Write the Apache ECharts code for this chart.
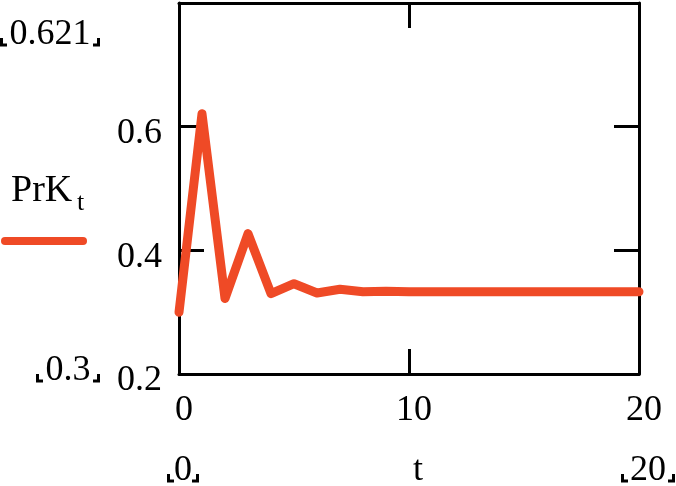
<!DOCTYPE html>
<html>
<head>
<meta charset="utf-8">
<script src="https://cdn.jsdelivr.net/npm/echarts@6/dist/echarts.min.js"></script>
<style>
html,body{margin:0;padding:0;background:#fff;}
#c{width:676px;height:486px;}
</style>
</head>
<body>
<div id="c"></div>
<script>
// Data
var tValues = [0,1,2,3,4,5,6,7,8,9,10,11,12,13,14,15,16,17,18,19,20];
var prkValues = [0.300,0.621,0.322,0.427,0.330,0.346,0.331,0.337,0.333,0.334,0.333,0.333,0.333,0.333,0.333,0.333,0.333,0.333,0.333,0.333,0.333];
var xTicks = [0,10,20];
var yTicks = [0.2,0.4,0.6];
var xLimitLabels = ['0','20'];
var yLimitLabels = ['0.621','0.3'];
var xName = 't';
var seriesName = 'PrK';
var seriesSub = 't';

var lineColor = '#EF4A26';
var font = 'Liberation Serif';
var chart = echarts.init(document.getElementById('c'), null, {renderer:'canvas'});

var pts = tValues.map(function(t,i){return [t, prkValues[i]];});

function yFmt(v){
  for (var i=0;i<yTicks.length;i++){ if (Math.abs(v-yTicks[i])<1e-9) return String(yTicks[i]); }
  return '';
}
function xFmt(v){
  for (var i=0;i<xTicks.length;i++){ if (Math.abs(v-xTicks[i])<1e-9) return String(xTicks[i]); }
  return '';
}

var axLine = {show:true, onZero:false, lineStyle:{color:'#000', width:3}};
var axTick = {show:true, inside:true, length:25, lineStyle:{color:'#000', width:3}};

var graphics = [];
function limitLabel(cx, cy, str, w){
  graphics.push({type:'text', x:cx, y:cy, style:{text:str, font:'36px "'+font+'"', fill:'#000', textAlign:'center', textVerticalAlign:'middle'}});
  var half = w/2;
  var by = cy + 10;
  graphics.push({type:'polyline', shape:{points:[[cx-half+1.5, by-7],[cx-half+1.5, by],[cx-half+7, by]]}, style:{stroke:'#000', lineWidth:3, fill:null}});
  graphics.push({type:'polyline', shape:{points:[[cx+half-7, by],[cx+half-1.5, by],[cx+half-1.5, by-7]]}, style:{stroke:'#000', lineWidth:3, fill:null}});
}
limitLabel(50, 35, yLimitLabels[0], 100);
limitLabel(68, 371, yLimitLabels[1], 64);
limitLabel(183, 471, xLimitLabels[0], 32);
limitLabel(648, 471, xLimitLabels[1], 54);
graphics.push({type:'text', x:418, y:471, style:{text:xName, font:'36px "'+font+'"', fill:'#000', textAlign:'center', textVerticalAlign:'middle'}});
// legend
graphics.push({type:'text', x:11, y:191, style:{text:seriesName, font:'38px "'+font+'"', fill:'#000', textAlign:'left', textVerticalAlign:'middle'}});
graphics.push({type:'text', x:77, y:203, style:{text:seriesSub, font:'26px "'+font+'"', fill:'#000', textAlign:'left', textVerticalAlign:'middle'}});
graphics.push({type:'line', shape:{x1:5, y1:241, x2:83, y2:241}, style:{stroke:lineColor, lineWidth:8, lineCap:'round'}});

var option = {
  animation:false,
  backgroundColor:'#fff',
  grid:{left:179, right:37, top:3, bottom:112, containLabel:false},
  xAxis:[
    {type:'value', position:'bottom', min:0, max:20, interval:10,
     axisLine:axLine, axisTick:axTick, splitLine:{show:false},
     axisLabel:{show:true, formatter:xFmt, fontFamily:font, fontSize:36, color:'#000', margin:19, padding:[0,0,0,10]}},
    {type:'value', position:'top', min:0, max:20, interval:10,
     axisLine:axLine, axisTick:axTick, splitLine:{show:false}, axisLabel:{show:false}}
  ],
  yAxis:[
    {type:'value', position:'left', min:0.2, max:0.8, interval:0.2,
     axisLine:axLine, axisTick:axTick, splitLine:{show:false},
     axisLabel:{show:true, formatter:yFmt, fontFamily:font, fontSize:36, color:'#000', margin:17, verticalAlign:'top', lineHeight:14}},
    {type:'value', position:'right', min:0.2, max:0.8, interval:0.2,
     axisLine:axLine, axisTick:axTick, splitLine:{show:false}, axisLabel:{show:false}}
  ],
  series:[{
    type:'line', name:seriesName, data:pts, showSymbol:false, symbol:'none',
    lineStyle:{color:lineColor, width:9, cap:'round', join:'round'},
    clip:false, z:1
  }],
  graphic:graphics
};
chart.setOption(option);
</script>
</body>
</html>
